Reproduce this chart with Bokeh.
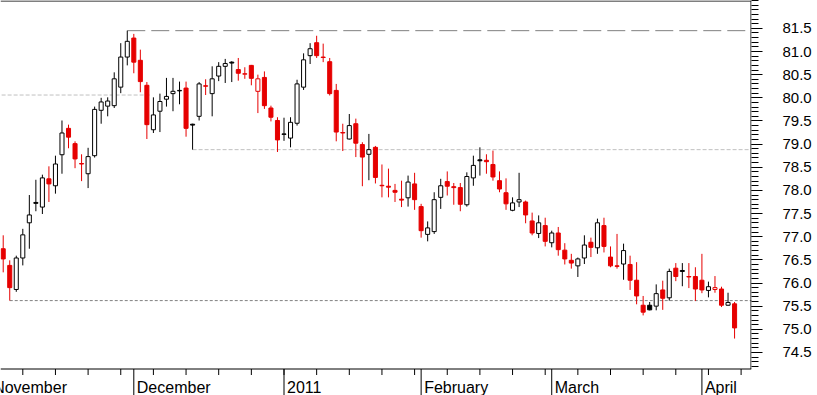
import numpy as np
import pandas as pd
from bokeh.plotting import figure
from bokeh.models import Range1d, FixedTicker, LinearAxis, Span, ColumnDataSource, PrintfTickFormatter
from bokeh.core.properties import value
from bokeh.embed import file_html
from bokeh.resources import INLINE

# ---- data (daily OHLC, Nov 3 2010 .. Apr 8 2011, weekdays) ----
dates = pd.bdate_range("2010-11-03", "2011-04-08")
opens = [76.74, 76.38, 75.86, 76.54, 77.30, 77.74, 77.64, 78.25, 78.10, 78.77,
         79.34, 79.01, 78.58, 78.36, 78.75, 79.73, 79.82, 79.83, 80.23, 80.88,
         81.29, 80.81, 80.27, 79.31, 79.71, 79.97, 80.09, 80.15, 80.21, 79.43,
         79.60, 80.26, 80.09, 80.47, 80.68, 80.77, 80.61, 80.51, 80.70, 80.14,
         80.44, 79.78, 79.51, 79.21, 79.13, 79.45, 80.23, 80.91, 81.19, 80.88,
         80.78, 80.16, 79.25, 79.11, 79.44, 78.99, 78.78, 78.93, 78.11, 78.09,
         78.00, 77.81, 77.84, 78.14, 77.65, 77.05, 77.11, 77.85, 78.19, 78.08,
         78.06, 77.69, 78.27, 78.66, 78.65, 78.56, 78.21, 77.95, 77.57, 77.75,
         77.75, 77.34, 77.07, 77.24, 76.87, 77.08, 76.71, 76.49, 76.37, 76.54,
         76.88, 76.76, 77.24, 76.56, 76.37, 76.41, 76.40, 76.06, 75.52, 75.52,
         75.50, 75.85, 75.68, 76.32, 76.27, 76.14, 76.14, 76.06, 75.84, 75.86,
         75.87, 75.52, 75.55]
highs = [77.03, 76.49, 76.59, 77.17, 77.90, 78.23, 78.34, 78.52, 78.75, 79.51,
         79.42, 79.06, 78.78, 78.92, 79.81, 80.00, 80.01, 80.55, 81.18, 81.45,
         81.38, 81.04, 80.34, 80.01, 80.09, 80.43, 80.43, 80.35, 80.35, 79.44,
         80.34, 80.40, 80.68, 80.77, 80.84, 80.79, 80.86, 80.66, 80.71, 80.50,
         80.57, 79.83, 79.58, 79.57, 79.58, 80.39, 80.96, 81.18, 81.34, 81.17,
         80.86, 80.30, 79.44, 79.65, 79.55, 79.04, 79.22, 78.96, 78.56, 78.47,
         78.14, 78.21, 78.32, 78.38, 77.71, 77.33, 77.96, 78.25, 78.41, 78.16,
         78.16, 78.39, 78.75, 78.93, 78.78, 78.86, 78.41, 78.26, 77.85, 78.38,
         77.78, 77.52, 77.46, 77.41, 77.13, 77.21, 76.86, 76.63, 76.55, 77.03,
         76.98, 77.39, 77.41, 76.79, 77.06, 76.85, 76.59, 76.45, 75.72, 75.59,
         75.97, 76.05, 76.31, 76.43, 76.43, 76.43, 76.34, 76.63, 76.03, 76.15,
         75.92, 75.79, 75.59]
lows = [76.23, 75.62, 75.81, 76.38, 76.74, 77.55, 77.49, 77.75, 77.93, 78.36,
        78.91, 78.48, 78.20, 78.05, 78.71, 79.44, 79.60, 79.78, 80.10, 80.70,
        80.53, 80.12, 79.11, 79.24, 79.26, 79.81, 79.71, 79.86, 79.16, 78.88,
        79.51, 80.06, 79.60, 80.36, 80.32, 80.34, 80.37, 80.41, 80.27, 79.67,
        79.76, 79.49, 78.83, 79.07, 78.93, 79.40, 80.17, 80.73, 80.86, 80.77,
        80.05, 79.06, 78.85, 79.10, 78.72, 78.09, 78.22, 78.15, 77.85, 77.85,
        77.75, 77.64, 77.65, 77.58, 76.98, 76.90, 77.06, 77.60, 77.89, 77.69,
        77.55, 77.65, 78.10, 78.32, 78.36, 78.21, 77.96, 77.58, 77.55, 77.64,
        77.29, 77.03, 76.97, 76.79, 76.77, 76.59, 76.40, 76.31, 76.13, 76.41,
        76.56, 76.63, 76.66, 76.34, 76.31, 76.07, 75.85, 75.54, 75.30, 75.41,
        75.41, 75.42, 75.62, 76.04, 75.93, 75.89, 75.61, 75.78, 75.69, 75.79,
        75.48, 75.51, 74.80]
closes = [76.52, 75.90, 76.54, 77.04, 77.47, 77.72, 78.27, 78.14, 78.57, 79.24,
          79.15, 78.68, 78.57, 78.73, 79.75, 79.91, 79.93, 80.41, 80.88, 81.22,
          80.77, 80.35, 79.42, 79.63, 79.92, 80.03, 80.14, 80.16, 79.34, 79.41,
          80.30, 80.25, 80.41, 80.68, 80.74, 80.75, 80.53, 80.52, 80.42, 80.41,
          79.83, 79.58, 79.09, 79.22, 79.47, 80.30, 80.82, 81.06, 80.91, 80.87,
          80.09, 79.26, 79.24, 79.40, 79.02, 78.72, 78.88, 78.28, 78.10, 78.07,
          77.96, 77.79, 78.18, 77.80, 77.13, 77.19, 77.80, 78.10, 78.09, 78.06,
          77.70, 78.30, 78.54, 78.64, 78.62, 78.29, 78.03, 77.71, 77.73, 77.80,
          77.47, 77.08, 77.30, 76.90, 77.08, 76.72, 76.52, 76.43, 76.52, 76.82,
          76.77, 77.30, 76.79, 76.37, 76.36, 76.70, 76.06, 75.72, 75.37, 75.42,
          75.77, 75.67, 76.25, 76.14, 76.25, 76.13, 75.87, 75.85, 75.92, 75.90,
          75.52, 75.58, 75.03]

# horizontal reference lines: level, start / end (trading-day index)
line_levels = [81.45, 80.06, 78.88, 75.62]
line_starts = [16, -6, 26, -2]
line_ends = [112, 19.6, 112, 112]
line_colors = ["#808080", "#c0c0c0", "#c0c0c0", "#808080"]
line_dashes = ["18 6", "4 2", "4 2", "3 2"]

month_names = ["November", "December", "2011", "February", "March", "April"]
month_starts = ["2010-11-01", "2010-12-01", "2011-01-03", "2011-02-01", "2011-03-01", "2011-04-01"]

y_ticks_major = [74.5, 75.0, 75.5, 76.0, 76.5, 77.0, 77.5, 78.0, 78.5, 79.0, 79.5, 80.0, 80.5, 81.0, 81.5]

# ---- trading-day index ----
cal = pd.bdate_range("2010-11-01", "2011-04-15")
origin = cal.get_loc(pd.Timestamp("2010-11-08"))
pos = {d: i - origin for i, d in enumerate(cal)}
xs = [pos[d] for d in dates]
mondays = [pos[d] for d in cal if d.weekday() == 0]
month_idx = [pos[pd.Timestamp(m)] for m in month_starts]

RED = "#e60000"
prev = [opens[0]] + closes[:-1]
colors = [RED if c < pc else "black" for c, pc in zip(closes, prev)]
fills = ["white" if c > o else col for o, c, col in zip(opens, closes, colors)]
tops = [max(o, c) for o, c in zip(opens, closes)]
bots = [min(o, c) for o, c in zip(opens, closes)]

src = ColumnDataSource(dict(x=xs, high=highs, low=lows, top=tops, bottom=bots,
                            color=colors, fill=fills))

W, H = 817, 395
frame_w = 751
axis_px = 368            # pixel row of the date axis line
px_per_day = 6.53
x0 = -22.3 / px_per_day
x1 = x0 + frame_w / px_per_day
px_per_unit = 46.3
y1 = 82.0 + 4.7 / px_per_unit
y0 = y1 - H / px_per_unit
y_axis = y1 - (axis_px + 0.5) / px_per_unit
dy = 1.0 / px_per_unit
dx = 1.0 / px_per_day

p = figure(width=W, height=H, output_backend="svg", toolbar_location=None,
           x_range=Range1d(x0, x1), y_range=Range1d(y0, y1),
           x_axis_location=None, y_axis_location=None,
           min_border_left=0, min_border_top=0, min_border_bottom=0,
           min_border_right=W - frame_w)
p.grid.visible = False
p.outline_line_color = None
p.background_fill_color = "white"
p.border_fill_color = "white"

# reference lines
for lv, s, e, c, d in zip(line_levels, line_starts, line_ends, line_colors, line_dashes):
    p.line([s, e], [lv, lv], line_color=c, line_dash=d, line_width=1)

# candles
p.segment(x0="x", y0="low", x1="x", y1="high", line_color="color", line_width=1, source=src)
p.vbar(x="x", width=0.62, top="top", bottom="bottom", fill_color="fill",
       line_color="color", line_width=1, source=src)

# frame lines: top border, date axis line, price axis line
p.add_layout(Span(location=y1 - 0.5 * dy, dimension="width", line_color="black", line_width=1))
p.add_layout(Span(location=y_axis, dimension="width", line_color="black", line_width=1))
p.segment(x0=[x1 - 0.5 * dx], y0=[y_axis], x1=[x1 - 0.5 * dx], y1=[y1], line_color="black", line_width=1)

# date axis: weekly ticks and month separators
p.segment(x0=mondays, y0=[y_axis] * len(mondays), x1=mondays, y1=[y_axis - 6 * dy] * len(mondays),
          line_color="black", line_width=1)
p.segment(x0=month_idx, y0=[y_axis] * len(month_idx), x1=month_idx, y1=[y0] * len(month_idx),
          line_color="black", line_width=1)
p.text(x=month_idx, y=[y_axis - 18.3 * dy] * len(month_idx), text=month_names, x_offset=3,
       text_baseline="alphabetic", text_align="left", text_font=value("Liberation Sans"),
       text_font_size="16px", text_color="black")

# right price axis
yax = LinearAxis(ticker=FixedTicker(ticks=y_ticks_major,
                                    minor_ticks=list(np.round(np.arange(74.2, 82.11, 0.1), 1))),
                 formatter=PrintfTickFormatter(format="%.1f"),
                 major_tick_out=11, major_tick_in=0, minor_tick_out=7, minor_tick_in=0,
                 major_label_standoff=20,
                 major_label_text_font="Liberation Sans", major_label_text_font_size="15px",
                 major_label_text_color="black", axis_line_color=None,
                 major_tick_line_color="black", minor_tick_line_color="black")
p.add_layout(yax, "right")

open("out.html", "w").write(file_html(p, INLINE))
